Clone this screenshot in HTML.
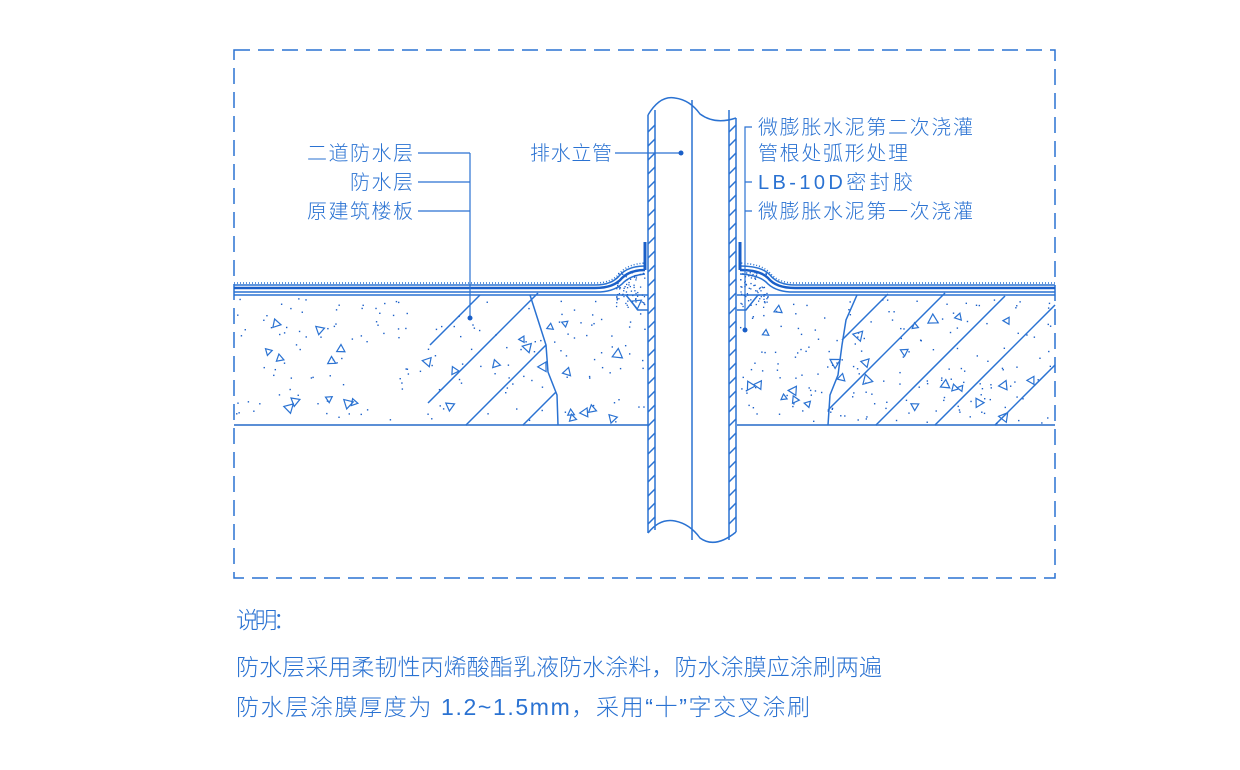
<!DOCTYPE html>
<html><head><meta charset="utf-8"><style>
html,body{margin:0;padding:0;background:#fff;width:1240px;height:770px;overflow:hidden}
svg{display:block}
text{font-family:"Liberation Sans","Noto Sans CJK SC",sans-serif;fill:#2a72d2;font-weight:300}
</style></head><body>
<svg id="s" width="1240" height="770" viewBox="0 0 1240 770" xmlns="http://www.w3.org/2000/svg">
<g fill="none" stroke="#2a72d2" stroke-width="1.5">
<rect x="234" y="50" width="821" height="528" stroke-dasharray="16,8"/>
<line x1="234" y1="425" x2="648" y2="425" stroke-width="2" stroke="#5b8fd6"/>
<line x1="737" y1="425" x2="1055" y2="425" stroke-width="2" stroke="#5b8fd6"/>
<path d="M234 283 H595 Q612 283 620 273 Q628 264 645 263" stroke-dasharray="1,2"/>
<path d="M234 285 H595 Q612 285 620 275 Q628 266 645 266"/>
<path d="M234 288 H595 Q614 288 622 278 Q630 270 645 270" stroke-width="2.5" stroke="#1a5fc8"/>
<path d="M234 292 H600 Q616 291 624 282 Q632 275 645 274"/>
<line x1="234" y1="295" x2="648" y2="295"/>
<path d="M1055 283 H795 Q778 283 770 273 Q762 264 740 263" stroke-dasharray="1,2"/>
<path d="M1055 285 H795 Q778 285 770 275 Q762 266 740 266"/>
<path d="M1055 288 H795 Q776 288 768 278 Q760 270 740 270" stroke-width="2.5" stroke="#1a5fc8"/>
<path d="M1055 292 H790 Q774 291 766 282 Q758 275 740 274"/>
<line x1="737" y1="295" x2="1055" y2="295"/>
<path d="M626 295 L638 310 H648"/>
<path d="M758 295 L746 310 H737"/>
<line x1="645" y1="270" x2="645" y2="242" stroke-width="3" stroke="#1a5fc8"/>
<line x1="740" y1="270" x2="740" y2="242" stroke-width="3" stroke="#1a5fc8"/>
<path d="M648 115 V533 M655 110 V530 M729 110 V540 M736 118 V532"/>
<path d="M648 115 Q660 95 675 98 Q690 100 700 114 Q715 125 736 118"/>
<path d="M648 533 Q660 518 675 521 Q690 524 700 538 Q715 549 736 532"/>
<line x1="692" y1="100" x2="692" y2="540"/>
<g id="ph"></g>
<path d="M530 295 L538 320 L546 345 L548 372 L557 395 L558 425"/>
<path d="M857 295 L846 320 L842 345 L838 375 L830 395 L828 425"/>
<line x1="430" y1="345" x2="480" y2="295"/>
<line x1="428" y1="403" x2="538" y2="293"/>
<line x1="466" y1="425" x2="546" y2="345"/>
<line x1="523" y1="425" x2="556" y2="392"/>
<line x1="842" y1="340" x2="888" y2="294"/>
<line x1="828" y1="410" x2="945" y2="293"/>
<line x1="876" y1="425" x2="1005" y2="296"/>
<line x1="935" y1="425" x2="1055" y2="305"/>
<line x1="995" y1="425" x2="1055" y2="365"/>
<path d="M418 153 H470 M418 182 H470 M418 211 H470 M470 153 V318" stroke-width="1.2"/>
<path d="M615 153 H680" stroke-width="1.2"/>
<path d="M752 127 H745 V330 M745 182 H752 M745 211 H752" stroke-width="1.2"/>
</g>
<g fill="#1a5fc8"><circle cx="470" cy="318" r="2.5"/><circle cx="681" cy="153" r="2.5"/><circle cx="745" cy="330" r="2.5"/></g>
<g id="dots" fill="#1a5fc8"></g>
<g id="tri" fill="none" stroke="#2a72d2" stroke-width="1.2"></g>
<g font-size="20">
<text x="307" y="160" textLength="106">二道防水层</text>
<text x="350" y="189" textLength="63">防水层</text>
<text x="307" y="218" textLength="106">原建筑楼板</text>
<text x="530" y="160" textLength="82">排水立管</text>
<text x="758" y="134" textLength="215">微膨胀水泥第二次浇灌</text>
<text x="758" y="160" textLength="150">管根处弧形处理</text>
<text x="758" y="189" textLength="155">LB-10D密封胶</text>
<text x="758" y="218" textLength="215">微膨胀水泥第一次浇灌</text>
</g>
<g font-size="23">
<text x="236" y="628" textLength="60">说明：</text>
<text x="236" y="675" textLength="646">防水层采用柔韧性丙烯酸酯乳液防水涂料，防水涂膜应涂刷两遍</text>
<text x="236" y="715" textLength="574">防水层涂膜厚度为 1.2~1.5mm，采用“十”字交叉涂刷</text>
</g>
</svg>
<script>
var ns="http://www.w3.org/2000/svg",seed=7;function r(){seed=(seed*16807)%2147483647;return seed/2147483647;}
var d=document.getElementById('dots'),t=document.getElementById('tri'),ph=document.getElementById('ph');
function inSlab(x){return (x>236&&x<646)||(x>739&&x<1053);}
for(var i=0;i<380;i++){var x=236+r()*817,y=298+r()*125;if(!inSlab(x))continue;var c=document.createElementNS(ns,'rect');c.setAttribute('x',x);c.setAttribute('y',y);c.setAttribute('width',1.4);c.setAttribute('height',1.4);d.appendChild(c);}
for(var i=0;i<70;i++){var x=615+r()*30,y=272+r()*36;var c=document.createElementNS(ns,'rect');c.setAttribute('x',x);c.setAttribute('y',y);c.setAttribute('width',1.3);c.setAttribute('height',1.3);d.appendChild(c);var x2=740+r()*28;var c2=c.cloneNode();c2.setAttribute('x',x2);d.appendChild(c2);}
for(var i=0;i<60;i++){var x=240+r()*810,y=302+r()*118;if(!inSlab(x)||(x>640&&x<745))continue;var s=3.5+r()*2.5,a=r()*6.28,p=[];for(var k=0;k<3;k++){p.push((x+s*Math.cos(a+k*2.094)).toFixed(1)+','+(y+s*Math.sin(a+k*2.094)).toFixed(1));}var g=document.createElementNS(ns,'polygon');g.setAttribute('points',p.join(' '));t.appendChild(g);}
for(var y=125;y<530;y+=14){[[648,655],[729,736]].forEach(function(w){var l=document.createElementNS(ns,'line');l.setAttribute('x1',w[0]);l.setAttribute('y1',y+7);l.setAttribute('x2',w[1]);l.setAttribute('y2',y);ph.appendChild(l);});}
</script>
</body></html>
